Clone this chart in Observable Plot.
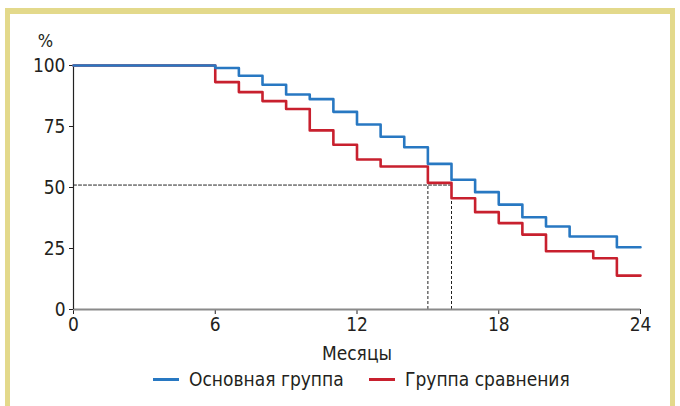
<!DOCTYPE html>
<html><head><meta charset="utf-8">
<script src="https://cdn.jsdelivr.net/npm/d3@7"></script>
<script src="https://cdn.jsdelivr.net/npm/@observablehq/plot@0.6"></script>
<style>
html,body{margin:0;padding:0;background:#fff;width:680px;height:406px;overflow:hidden;}
#wrap{position:relative;width:680px;height:406px;}
#frame{position:absolute;left:5px;top:8px;width:660px;height:420px;border:5px solid #e3d98b;border-top-width:6px;}
#chart{position:absolute;left:0;top:0;}
#legend{position:absolute;top:368px;left:0;width:680px;font-family:"Liberation Sans Narrow","DejaVu Sans Condensed","Roboto Condensed",sans-serif;font-size:19px;color:#231f20;}
.item{position:absolute;display:flex;align-items:center;white-space:nowrap;}
.sw{display:inline-block;width:26px;height:3px;margin-right:10px;}
</style></head>
<body><div id="wrap"><div id="frame"></div><div id="chart"></div><div id="legend"></div></div>
<script>
const months = [0,6,7,8,9,10,11,12,13,14,15,16,17,18,19,20,21,22,23,24];
const mainGroup = [100,99,95.8,92.1,88.1,86.2,81,75.8,70.8,66.5,59.7,53.2,48.1,43.0,37.8,34.0,29.9,29.9,25.5,25.5];
const compGroup = [100,93.2,89.1,85.4,82.2,73.4,67.5,61.5,58.6,58.6,51.9,45.6,39.9,35.4,30.7,23.9,23.9,21.0,13.9,13.9];
const seriesNames = ["Основная группа","Группа сравнения"];
const seriesColors = ["#2878c2","#c8202e"];
const xTicks = [0,6,12,18,24];
const yTicks = [0,25,50,75,100];
const medianLevel = 51;
const medianMonths = [15,16];
const xLabel = "Месяцы";
const yLabel = "%";

const mainData = months.map((m,i)=>({m, v: mainGroup[i]}));
const compData = months.map((m,i)=>({m, v: compGroup[i]}));
const hLine = [{m:0,v:medianLevel},{m:d3.max(medianMonths),v:medianLevel}];

const font = '"Liberation Sans Narrow","DejaVu Sans Condensed","Roboto Condensed",sans-serif';
const W = 680, H = 365;
const chart = Plot.plot({
  width: W, height: H,
  marginLeft: 73, marginRight: 40, marginTop: 65, marginBottom: 56,
  style: {fontFamily: font, fontSize: "19px", color: "#231f20", background: "transparent"},
  x: {domain: [0,24], ticks: xTicks, tickSize: 5, tickPadding: 3, label: xLabel, labelAnchor: "center", labelArrow: "none", labelOffset: 50},
  y: {domain: [0,100], ticks: yTicks, tickSize: 4, tickPadding: 4, label: null},
  marks: [
    Plot.line(hLine, {x:"m", y:"v", stroke:"#222", strokeWidth:1, strokeDasharray:"3,2"}),
    Plot.ruleX(medianMonths, {y1: 0, y2: medianLevel, stroke:"#222", strokeWidth:1, strokeDasharray:"3,2"}),
    Plot.ruleY([0], {stroke:"#8a8a8a", strokeWidth:2}),
    Plot.ruleX([0], {stroke:"#222", strokeWidth:1.2}),
    Plot.line(compData, {x:"m", y:"v", curve:"step-after", stroke: seriesColors[1], strokeWidth:2.6}),
    Plot.line(mainData, {x:"m", y:"v", curve:"step-after", stroke: seriesColors[0], strokeWidth:2.6}),
    Plot.text([yLabel], {frameAnchor:"top-left", textAnchor:"middle", dx:-28, dy:-31, fontSize:18})
  ]
});
document.getElementById("chart").appendChild(chart);

const legend = document.getElementById("legend");
const lefts = [153, 369];
seriesNames.forEach((n,i)=>{
  const d = document.createElement("div");
  d.className = "item";
  d.style.left = lefts[i] + "px";
  d.innerHTML = `<span class="sw" style="background:${seriesColors[i]}"></span><span>${n}</span>`;
  legend.appendChild(d);
});
</script></body></html>
